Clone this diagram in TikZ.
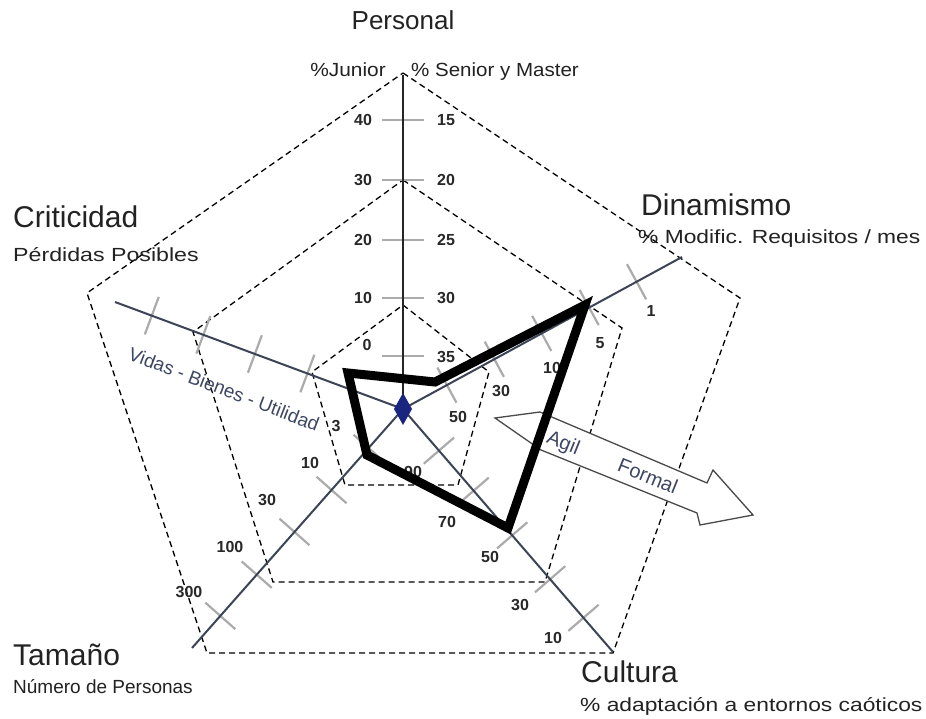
\documentclass[tikz,border=0pt]{standalone}
\usepackage{fontspec}
\setmainfont{Liberation Sans}
\usetikzlibrary{calc}
\newcommand{\fsz}[1]{\fontsize{#1}{#1}\selectfont}
\definecolor{axc}{HTML}{3C4456}
\definecolor{tkc}{HTML}{ABABAB}
\definecolor{numc}{HTML}{282828}
\definecolor{headc}{HTML}{222222}
\definecolor{navy}{HTML}{1A2580}
\definecolor{vidc}{HTML}{3D4663}
\definecolor{arrc}{HTML}{4A4A4A}
\tikzset{
  pent/.style={dash pattern=on 6pt off 4pt, line width=1.3pt, black},
  axisln/.style={line width=2pt, color=axc},
  tk/.style={line width=2.2pt, color=tkc},
  num/.style={font=\fsz{16}\bfseries, text=numc, inner sep=0pt},
  head/.style={font=\fsz{30}, text=headc, inner sep=0pt, anchor=base west},
  sub/.style={font=\fsz{19}, text=headc, inner sep=0pt, anchor=base west},
  poly/.style={line width=9pt, line join=miter, black},
  arrlbl/.style={font=\fsz{20}, text=vidc, inner sep=1pt, rotate=-22}
}
\begin{document}
\begin{tikzpicture}[x=1pt,y=-1pt]
\useasboundingbox (0,0) rectangle (926,719);
\fill[white] (0,0) rectangle (926,719);

% axis end points
\coordinate (C) at (403,409);
\coordinate (Ep) at (403,75);
\coordinate (Ed) at (682,257);
\coordinate (Ec) at (115,302);
\coordinate (Et) at (192,648);
\coordinate (Eu) at (613,652);

% dashed pentagons
\draw[pent] (403,73) -- (740,298) -- (613,653) -- (207,653) -- (87,293) -- cycle;
\draw[pent] (403,180) -- (622,328) -- (545,582) -- (273,582) -- (193,332) -- cycle;
\draw[pent] (403,305) -- (489,372) -- (458,485) -- (345,485) -- (312,372) -- cycle;

% ticks
\foreach \d in {53,111,169,229,289}{
  \path ($(C)!\d pt!(Ep)$) coordinate (tp);
  \draw[tk] ($(tp)!21pt!90:(Ep)$) -- ($(tp)!21pt!-90:(Ep)$);}
\foreach \d in {50,104,158,212,266}{
  \path ($(C)!\d pt!(Ed)$) coordinate (tp);
  \draw[tk] ($(tp)!20pt!90:(Ed)$) -- ($(tp)!20pt!-90:(Ed)$);}
\foreach \d in {102,158,213,268}{
  \path ($(C)!\d pt!(Ec)$) coordinate (tp);
  \draw[tk] ($(tp)!20pt!90:(Ec)$) -- ($(tp)!20pt!-90:(Ec)$);}
\foreach \d in {52,108,164,221,276}{
  \path ($(C)!\d pt!(Et)$) coordinate (tp);
  \draw[tk] ($(tp)!20pt!90:(Et)$) -- ($(tp)!20pt!-90:(Et)$);}
\foreach \d in {55,108,167,225,276}{
  \path ($(C)!\d pt!(Eu)$) coordinate (tp);
  \draw[tk] ($(tp)!20pt!90:(Eu)$) -- ($(tp)!20pt!-90:(Eu)$);}

% axes
\draw[line width=2pt, color=black!85] (C) -- (Ep);
\draw[axisln] (C) -- (Ed);
\draw[axisln] (C) -- (Ec);
\draw[axisln] (C) -- (Et);
\draw[axisln] (C) -- (Eu);

% Personal numbers
\node[num] (pj40) at (363,120) {40};
\node[num] (pj30) at (363,180) {30};
\node[num] (pj20) at (363,240) {20};
\node[num] (pj10) at (363,298) {10};
\node[num] (pj0)  at (367,345) {0};
\node[num] (ps15) at (446,120) {15};
\node[num] (ps20) at (446,180) {20};
\node[num] (ps25) at (446,240) {25};
\node[num] (ps30) at (446,298) {30};
\node[num] (ps35) at (446,357) {35};
% Dinamismo numbers
\node[num] (d50) at (458,417) {50};
\node[num] (d30) at (501,391) {30};
\node[num] (d10) at (552,368) {10};
\node[num] (d5)  at (600,343) {5};
\node[num] (d1)  at (651,311) {1};
% Tamano numbers
\node[num] (t3)   at (336,426) {3};
\node[num] (t10)  at (310,463) {10};
\node[num] (t30)  at (267,500) {30};
\node[num] (t100) at (230,547) {100};
\node[num] (t300) at (189,592) {300};
% Cultura numbers
\node[num] (c90) at (413,472) {90};
\node[num] (c70) at (447,522) {70};
\node[num] (c50) at (490,557) {50};
\node[num] (c30) at (520,605) {30};
\node[num] (c10) at (553,638) {10};

% Criticidad scale text
\node[font=\fsz{19}, text=vidc, rotate=-21, inner sep=0pt] (vidas) at (224,389) {Vidas - Bienes - Utilidad};

% Agil-Formal arrow
\draw[fill=white, draw=arrc, line width=1.3pt, line join=miter]
  (495,418) -- (540,412) -- (707,483) -- (713,470) -- (753,515) -- (700,525) -- (697,513) -- (541,450) -- cycle;

% thick profile
\draw[poly] (348,373) -- (435,382) -- (585,305) -- (508,528) -- (367,455) -- cycle;

\node[arrlbl, fill=white, fill opacity=0.85, text opacity=1] (agil) at (563,444) {Agil};
\node[arrlbl] (formal) at (648,476) {Formal};

% center diamond
\fill[navy] (403,393) -- (412,409) -- (403,425) -- (394,409) -- cycle;

% headings
\node[font=\fsz{26}, text=headc, inner sep=0pt, anchor=base] (personal) at (403,30) {Personal};
\node[sub, anchor=base east] (junior) at (386,77) {\scalebox{1.1}[1]{\%Junior}};
\node[sub] (senior) at (411,77) {\scalebox{1.08}[1]{\% Senior y Master}};
\node[head] (dinam) at (641,216) {Dinamismo};
\node[sub] (modif) at (638,244) {\scalebox{1.2}[1]{\% Modific. Requisitos / mes}};
\node[head] (critic) at (13,228) {Criticidad};
\node[sub] (perd) at (13,262) {\scalebox{1.22}[1]{Pérdidas Posibles}};
\node[head] (taman) at (13,665) {Tamaño};
\node[sub] (numer) at (13,693) {Número de Personas};
\node[head] (cult) at (581,682) {Cultura};
\node[sub] (adapt) at (580,711) {\scalebox{1.2}[1]{\% adaptación a entornos caóticos}};
\end{tikzpicture}
\end{document}
